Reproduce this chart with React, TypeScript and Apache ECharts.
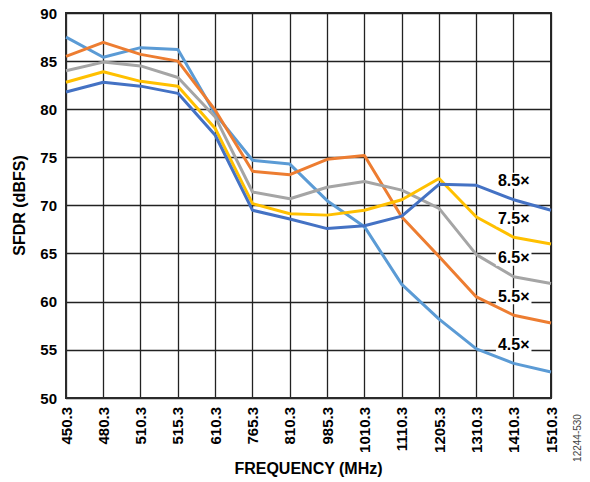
import React, { useEffect, useRef } from "react";
import * as echarts from "echarts";

const categories = ["450.3", "480.3", "510.3", "515.3", "610.3", "765.3", "810.3", "985.3", "1010.3", "1110.3", "1205.3", "1310.3", "1410.3", "1510.3"];
const yTicks = { min: 50, max: 90, interval: 5 };

const s45 = [87.5, 85.4, 86.4, 86.2, 79.5, 74.7, 74.3, 70.5, 67.8, 61.8, 58.2, 55.1, 53.6, 52.7];
const s55 = [85.5, 86.95, 85.7, 85.0, 79.9, 73.55, 73.2, 74.8, 75.2, 68.8, 64.7, 60.5, 58.6, 57.8];
const s65 = [84.0, 84.9, 84.5, 83.3, 79.2, 71.4, 70.7, 71.9, 72.5, 71.6, 69.7, 64.9, 62.6, 61.9];
const s75 = [82.8, 83.9, 82.9, 82.4, 78.0, 70.2, 69.15, 69.0, 69.5, 70.6, 72.8, 68.8, 66.7, 66.0];
const s85 = [81.8, 82.8, 82.4, 81.65, 77.3, 69.5, 68.6, 67.6, 67.9, 68.9, 72.2, 72.1, 70.6, 69.5];

const seriesNames = ["4.5×", "5.5×", "6.5×", "7.5×", "8.5×"];
const seriesData = [s45, s55, s65, s75, s85];
const colors = ["#5B9BD5", "#ED7D31", "#A5A5A5", "#FFC000", "#4472C4"];
const labelIndex = 12;

const FONT = "'Liberation Sans', Arial, sans-serif";

export default function App() {
  const ref = useRef<HTMLDivElement>(null);
  useEffect(() => {
    if (!ref.current) return;
    const chart = echarts.init(ref.current, null, { renderer: "svg" });
    chart.setOption({
      animation: false,
      backgroundColor: "#fff",
      grid: {
        left: 66,
        right: 39,
        top: 13,
        bottom: 84,
        show: true,
        borderColor: "#2b2b2b",
        borderWidth: 2,
        backgroundColor: "transparent",
      },
      xAxis: {
        type: "category",
        data: categories,
        boundaryGap: false,
        name: "FREQUENCY (MHz)",
        nameLocation: "middle",
        nameGap: 61,
        nameTextStyle: { fontFamily: FONT, fontWeight: "bold", fontSize: 16, color: "#000" },
        axisLine: { show: true, lineStyle: { color: "#2b2b2b", width: 2 } },
        axisTick: { show: false },
        axisLabel: {
          rotate: 90,
          interval: 0,
          margin: 9,
          fontFamily: FONT,
          fontWeight: "bold",
          fontSize: 15,
          color: "#000",
        },
        splitLine: { show: true, interval: 0, lineStyle: { color: "#222", width: 1.3 } },
      },
      yAxis: {
        type: "value",
        min: yTicks.min,
        max: yTicks.max,
        interval: yTicks.interval,
        name: "SFDR (dBFS)",
        nameLocation: "middle",
        nameGap: 39,
        nameRotate: 90,
        nameTextStyle: { fontFamily: FONT, fontWeight: "bold", fontSize: 16, color: "#000" },
        axisLine: { show: true, lineStyle: { color: "#2b2b2b", width: 2 } },
        axisTick: { show: false },
        axisLabel: {
          margin: 9,
          fontFamily: FONT,
          fontWeight: "bold",
          fontSize: 15,
          color: "#000",
        },
        splitLine: { show: true, lineStyle: { color: "#222", width: 1.3 } },
      },
      series: seriesNames.map((name, i) => ({
        name,
        type: "line",
        data: seriesData[i],
        symbol: "none",
        showSymbol: false,
        lineStyle: { color: colors[i], width: 3 },
        itemStyle: { color: colors[i] },
        z: 3,
        markPoint: {
          symbol: "circle",
          symbolSize: 0,
          silent: true,
          z: 10,
          data: [
            {
              coord: [categories[labelIndex], seriesData[i][labelIndex]],
            },
          ],
          label: {
            show: true,
            position: "top",
            distance: 11,
            formatter: name,
            fontFamily: FONT,
            fontWeight: "bold",
            fontSize: 16,
            color: "#000",
            backgroundColor: "#fff",
            padding: [0, 2, 0, 2],
          },
        },
      })),
      graphic: [
        {
          type: "text",
          x: 577,
          y: 438,
          rotation: Math.PI / 2,
          style: {
            text: "12244-530",
            fontFamily: FONT,
            fontSize: 10,
            fill: "#444",
            align: "center",
            verticalAlign: "middle",
          },
        },
      ],
    });
    return () => chart.dispose();
  }, []);
  return <div ref={ref} style={{ width: 590, height: 482, position: "absolute", left: 0, top: 0 }} />;
}
